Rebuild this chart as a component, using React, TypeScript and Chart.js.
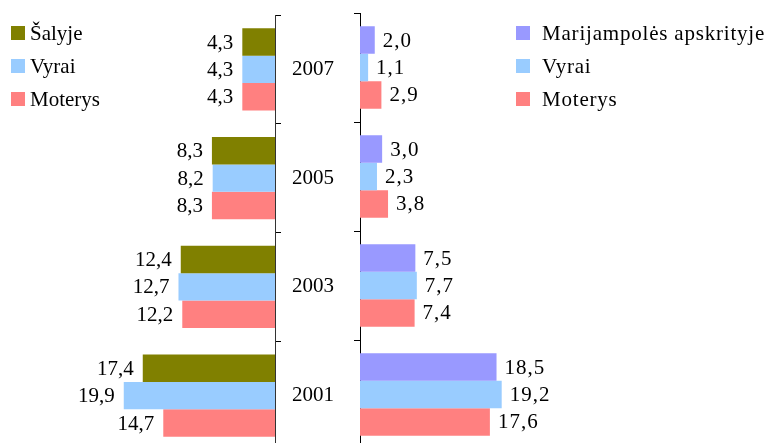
import React, { useEffect, useRef } from "react";
import { Chart, registerables } from "chart.js";

Chart.register(...registerables);

const years = ["2007", "2005", "2003", "2001"];
const salyje = [4.3, 8.3, 12.4, 17.4];
const salyjeVyrai = [4.3, 8.2, 12.7, 19.9];
const salyjeMoterys = [4.3, 8.3, 12.2, 14.7];
const marijampole = [2.0, 3.0, 7.5, 18.5];
const marVyrai = [1.1, 2.3, 7.7, 19.2];
const marMoterys = [2.9, 3.8, 7.4, 17.6];

const leftLegend = ["Šalyje", "Vyrai", "Moterys"];
const rightLegend = ["Marijampolės apskrityje", "Vyrai", "Moterys"];
const leftColors = ["#808000", "#99CCFF", "#FF8080"];
const rightColors = ["#9999FF", "#99CCFF", "#FF8080"];

const FONT = "Liberation Serif, serif";
const fmt = (v: number) => v.toFixed(1).replace(".", ",");

function labelPlugin(side: "left" | "right") {
  return {
    id: "valueLabels",
    afterDatasetsDraw(chart: any) {
      const ctx = chart.ctx;
      ctx.save();
      ctx.font = `21px ${FONT}`;
      ctx.fillStyle = "#000";
      ctx.textBaseline = "middle";
      if (side === "right" && "letterSpacing" in ctx) ctx.letterSpacing = "1px";
      chart.data.datasets.forEach((ds: any, i: number) => {
        const meta = chart.getDatasetMeta(i);
        meta.data.forEach((bar: any, j: number) => {
          const txt = fmt(ds.data[j]);
          if (side === "left") {
            ctx.textAlign = "right";
            ctx.fillText(txt, bar.x - 9, bar.y + 1);
          } else {
            ctx.textAlign = "left";
            ctx.fillText(txt, bar.x + 8, bar.y + 1);
          }
        });
      });
      ctx.restore();
    },
  };
}

function makeDatasets(names: string[], colors: string[], series: number[][]) {
  return series.map((data, i) => ({
    label: names[i],
    data,
    backgroundColor: colors[i],
    borderWidth: 0,
    categoryPercentage: 0.755,
    barPercentage: 1,
  }));
}

function Legend({
  names,
  colors,
  left,
  textLeft,
  spacing,
}: {
  names: string[];
  colors: string[];
  left: number;
  textLeft: number;
  spacing: number;
}) {
  return (
    <>
      {names.map((n, i) => (
        <div key={i} style={{ position: "absolute", left, top: 26 + i * 33, height: 14, width: 300 }}>
          <div style={{ position: "absolute", left: 0, top: 0, width: 14, height: 14, background: colors[i] }} />
          <div
            style={{
              position: "absolute",
              left: textLeft - left,
              top: -5,
              fontFamily: FONT,
              fontSize: 21,
              lineHeight: "24px",
              letterSpacing: spacing,
              color: "#000",
              whiteSpace: "nowrap",
            }}
          >
            {n}
          </div>
        </div>
      ))}
    </>
  );
}

export default function App() {
  const leftRef = useRef<HTMLCanvasElement>(null);
  const rightRef = useRef<HTMLCanvasElement>(null);

  useEffect(() => {
    const left = new Chart(leftRef.current!, {
      type: "bar",
      data: {
        labels: years,
        datasets: makeDatasets(leftLegend, leftColors, [salyje, salyjeVyrai, salyjeMoterys]) as any,
      },
      plugins: [labelPlugin("left")],
      options: {
        animation: false,
        responsive: false,
        devicePixelRatio: 1,
        indexAxis: "y",
        layout: { padding: { left: 85, top: 15, right: 0, bottom: 0 } },
        plugins: { legend: { display: false }, tooltip: { enabled: false } },
        scales: {
          x: { display: false, reverse: true, min: 0, max: 25 },
          y: {
            position: "right",
            grid: { drawOnChartArea: false, drawTicks: true, tickLength: 6, color: "#000", offset: true },
            border: { color: "#333", width: 1 },
            ticks: { color: "#000", font: { family: FONT, size: 21 }, padding: 11, crossAlign: "near" },
            afterFit: (s: any) => {
              s.width = 65;
              s.paddingTop = 0;
              s.paddingBottom = 0;
            },
          },
        },
      } as any,
    });

    const right = new Chart(rightRef.current!, {
      type: "bar",
      data: {
        labels: years,
        datasets: makeDatasets(rightLegend, rightColors, [marijampole, marVyrai, marMoterys]) as any,
      },
      plugins: [labelPlugin("right")],
      options: {
        animation: false,
        responsive: false,
        devicePixelRatio: 1,
        indexAxis: "y",
        layout: { padding: { left: 0, top: 13, right: 224.5, bottom: 0 } },
        plugins: { legend: { display: false }, tooltip: { enabled: false } },
        scales: {
          x: { display: false, min: 0, max: 25 },
          y: {
            position: "left",
            grid: { drawOnChartArea: false, drawTicks: true, tickLength: 6, color: "#000", offset: true },
            border: { color: "#000", width: 1 },
            ticks: { display: false },
            afterFit: (s: any) => {
              s.width = 20;
              s.paddingTop = 0;
              s.paddingBottom = 0;
            },
          },
        },
      } as any,
    });

    return () => {
      left.destroy();
      right.destroy();
    };
  }, []);

  return (
    <div
      style={{
        position: "fixed",
        left: 0,
        top: 0,
        width: 769,
        height: 443,
        overflow: "hidden",
        background: "#fff",
      }}
    >
      <canvas ref={leftRef} width={340} height={450} style={{ position: "absolute", left: 0, top: 0 }} />
      <canvas ref={rightRef} width={429} height={449} style={{ position: "absolute", left: 340, top: 0 }} />
      <Legend names={leftLegend} colors={leftColors} left={11} textLeft={30} spacing={0} />
      <Legend names={rightLegend} colors={rightColors} left={516} textLeft={542} spacing={0.8} />
    </div>
  );
}
